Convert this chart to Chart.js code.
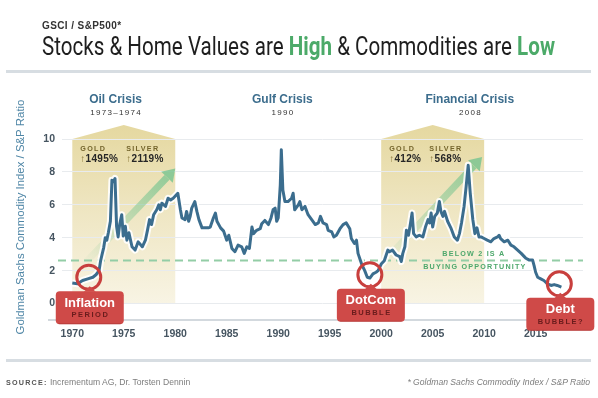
<!DOCTYPE html>
<html><head><meta charset="utf-8">
<script src="https://cdn.jsdelivr.net/npm/chart.js@4.4.1/dist/chart.umd.min.js"></script>
<style>
html,body{margin:0;padding:0;background:#fff;width:598px;height:398px;overflow:hidden;}
#wrap{position:relative;width:598px;height:398px;}
canvas{position:absolute;left:0;top:0;}
.t{position:absolute;white-space:nowrap;font-family:"Liberation Sans",Arial,sans-serif;transform-origin:0 0;}
#kicker{left:42px;top:21px;font-size:10px;line-height:10px;font-weight:bold;letter-spacing:0.4px;color:#333;}
#title{left:42px;top:34px;font-family:Roboto,"Liberation Sans",sans-serif;font-size:25px;line-height:25px;color:#1e1e1e;}
#title b{color:#4caa69;font-weight:bold;}
.rule{position:absolute;left:6px;width:585px;height:3px;background:#d7dde2;}
#source{left:6px;top:377px;font-size:8.6px;line-height:10px;color:#7d7d7d;}
#source b{color:#555;letter-spacing:1.2px;font-size:7.2px;}
#note{right:8px;top:377px;font-size:8.6px;line-height:10px;color:#7d7d7d;font-style:italic;}
</style></head><body>
<div id="wrap">
<canvas id="c" width="598" height="398"></canvas>
<div class="t" id="kicker">GSCI / S&amp;P500*</div>
<div class="t" id="title">Stocks &amp; Home Values are <b>High</b> &amp; Commodities are <b>Low</b></div>
<div class="rule" style="top:70px"></div>
<div class="rule" style="top:358.5px"></div>
<div class="t" id="source"><b>SOURCE:</b> Incrementum AG, Dr. Torsten Dennin</div>
<div class="t" id="note">* Goldman Sachs Commodity Index / S&amp;P Ratio</div>
</div>
<script>
// ---- data ----
const years = [1970.0,1970.5,1971.0,1971.5,1972.0,1972.3,1972.6,1972.75,1972.9,1973.05,1973.2,1973.35,1973.5,1973.7,1973.85,1974.0,1974.15,1974.3,1974.45,1974.6,1974.8,1974.95,1975.15,1975.3,1975.5,1975.8,1976.1,1976.4,1976.8,1977.1,1977.3,1977.5,1977.7,1977.9,1978.2,1978.4,1978.55,1978.7,1979.05,1979.3,1979.55,1979.8,1980.25,1980.5,1980.65,1980.95,1981.1,1981.3,1981.45,1981.6,1981.9,1982.1,1982.3,1982.6,1982.9,1983.2,1983.4,1983.7,1983.9,1984.05,1984.4,1984.7,1985.0,1985.2,1985.5,1985.8,1986.1,1986.45,1986.7,1986.95,1987.2,1987.45,1987.6,1987.9,1988.25,1988.4,1988.7,1989.05,1989.3,1989.5,1989.7,1989.85,1990.0,1990.2,1990.3,1990.45,1990.65,1990.95,1991.3,1991.45,1991.6,1991.95,1992.1,1992.3,1992.6,1992.9,1993.25,1993.6,1993.9,1994.1,1994.35,1994.7,1994.85,1995.2,1995.4,1995.65,1996.0,1996.3,1996.6,1996.95,1997.1,1997.4,1997.6,1997.75,1998.1,1998.4,1998.65,1998.9,1999.2,1999.5,1999.7,2000.0,2000.3,2000.65,2000.8,2001.1,2001.45,2001.8,2001.95,2002.1,2002.3,2002.45,2002.65,2002.85,2003.0,2003.15,2003.4,2003.7,2004.05,2004.3,2004.55,2004.7,2004.85,2005.0,2005.2,2005.45,2005.65,2005.8,2006.0,2006.15,2006.45,2006.8,2007.1,2007.4,2007.6,2007.8,2008.05,2008.25,2008.45,2008.65,2008.9,2009.1,2009.3,2009.5,2009.7,2010.0,2010.3,2010.65,2010.95,2011.3,2011.45,2011.6,2011.95,2012.3,2012.6,2012.9,2013.25,2013.6,2013.9,2014.05,2014.35,2014.7,2014.85,2015.0,2015.2,2015.5,2015.8,2016.15,2016.5,2016.8,2017.1,2017.5];
const ratio = [1.25,1.2,1.4,1.5,1.6,1.75,2.0,2.6,3.0,3.4,4.0,3.85,4.3,5.0,7.5,7.4,7.6,4.7,4.05,4.8,5.4,4.1,4.7,3.85,4.3,3.45,3.25,3.75,3.45,3.85,4.45,5.1,4.8,5.4,5.7,6.0,5.7,6.1,5.9,6.4,6.3,6.4,6.7,5.7,5.2,5.1,5.6,5.0,5.3,5.8,6.2,5.6,5.1,4.6,4.6,4.6,4.65,5.2,5.5,5.0,4.6,4.4,3.85,4.15,3.35,3.15,3.55,3.45,3.05,3.45,3.35,4.65,4.25,4.45,4.55,4.85,5.05,4.8,5.2,5.7,5.8,5.0,5.2,7.2,9.35,6.9,6.2,6.2,6.4,6.7,5.7,6.0,6.2,5.7,5.9,5.4,5.1,4.8,4.9,5.3,4.9,4.8,4.45,4.35,4.05,4.15,4.55,4.8,4.9,4.55,3.95,3.65,3.85,3.05,2.4,2.0,1.6,1.55,1.8,1.9,2.0,2.4,2.6,3.25,3.15,3.25,2.95,2.85,2.55,3.05,3.45,4.45,4.15,4.9,5.5,4.25,4.05,4.15,4.05,4.65,5.1,4.9,5.5,4.65,5.3,5.5,6.2,5.6,5.3,5.6,5.0,4.55,4.05,3.85,4.25,4.9,5.9,7.1,8.4,6.7,5.1,4.25,4.6,4.05,4.05,3.95,3.85,3.75,3.95,4.05,4.15,3.95,3.75,3.85,3.55,3.45,3.25,3.05,2.85,2.75,2.65,2.65,2.3,1.9,1.6,1.5,1.4,1.2,1.1,1.15,1.1,1.0];
const xTicks = [1970,1975,1980,1985,1990,1995,2000,2005,2010,2015];
const yTicks = [0,2,4,6,8,10];
const crisisNames = ['Oil Crisis','Gulf Crisis','Financial Crisis'];
const crisisDates = ['1973–1974','1990','2008'];
const crisisYears = [1974.2,1990.4,2008.6];
const shadeStart = [1970,2000];
const shadeEnd = [1980,2010];
const goldGains = ['1495%','412%'];
const silverGains = ['2119%','568%'];
const trendStartYear = [1971.0,2000.2];
const trendStartValue = [2.3,2.5];
const trendEndYear = [1980.0,2009.8];
const trendEndValue = [8.2,8.9];
const buyLevel = 2.62;
const buyText = ['BELOW 2 IS A','BUYING OPPORTUNITY'];
const buyTextYear = 2009.0;
const bubbleTitles = ['Inflation','DotCom','Debt'];
const bubbleSubs = ['PERIOD','BUBBLE','BUBBLE?'];
const bubbleYears = [1971.6,1998.9,2017.3];
const bubbleValues = [1.6,1.75,1.2];
const yTitle = 'Goldman Sachs Commodity Index / S&P Ratio';

// fit title width like the reference's condensed face
(function(){
  const t=document.getElementById('title');
  const w=t.getBoundingClientRect().width;
  if(w>0) t.style.transform='scaleX('+(513/w)+')';
})();

const SANS = '"Liberation Sans",Arial,sans-serif';

function rr(ctx,x,y,w,h,r){ctx.beginPath();ctx.moveTo(x+r,y);ctx.lineTo(x+w-r,y);ctx.quadraticCurveTo(x+w,y,x+w,y+r);ctx.lineTo(x+w,y+h-r);ctx.quadraticCurveTo(x+w,y+h,x+w-r,y+h);ctx.lineTo(x+r,y+h);ctx.quadraticCurveTo(x,y+h,x,y+h-r);ctx.lineTo(x,y+r);ctx.quadraticCurveTo(x,y,x+r,y);ctx.closePath();}

const annotations = {
  id:'annotations',
  beforeDraw(chart){
    const {ctx,scales:{x,y}} = chart;
    const yTop = y.getPixelForValue(10), yBot = y.getPixelForValue(0);
    ctx.save();
    for(let i=0;i<shadeStart.length;i++){
      const xa = x.getPixelForValue(shadeStart[i]), xb = x.getPixelForValue(shadeEnd[i]);
      const apex = yTop-14;
      const g = ctx.createLinearGradient(0,apex,0,yBot);
      g.addColorStop(0,'#e5d8a0');g.addColorStop(0.45,'#eee5c0');g.addColorStop(1,'#f8f4e4');
      ctx.fillStyle = g;
      ctx.beginPath();ctx.moveTo(xa,yBot);ctx.lineTo(xa,yTop);ctx.lineTo((xa+xb)/2,apex);ctx.lineTo(xb,yTop);ctx.lineTo(xb,yBot);ctx.closePath();ctx.fill();
    }
    ctx.restore();
  },
  beforeDatasetsDraw(chart){
    const {ctx,chartArea:a,scales:{x,y}} = chart;
    ctx.save();
    // x axis base line
    ctx.strokeStyle='#d3d9de';ctx.lineWidth=2;
    ctx.beginPath();ctx.moveTo(a.left-14,a.bottom);ctx.lineTo(a.right,a.bottom);ctx.stroke();
    // buying-opportunity dashed line
    const yb = y.getPixelForValue(buyLevel);
    ctx.strokeStyle='#93cda6';ctx.lineWidth=2;ctx.setLineDash([8,5]);
    ctx.beginPath();ctx.moveTo(a.left-4,yb);ctx.lineTo(a.right,yb);ctx.stroke();
    ctx.setLineDash([]);
    for(let i=0;i<trendStartYear.length;i++){
      const x0=x.getPixelForValue(trendStartYear[i]),y0=y.getPixelForValue(trendStartValue[i]);
      const x1=x.getPixelForValue(trendEndYear[i]),y1=y.getPixelForValue(trendEndValue[i]);
      const ang=Math.atan2(y1-y0,x1-x0), hl=12, hw=8;
      const bx=x1-hl*Math.cos(ang), by=y1-hl*Math.sin(ang);
      const g=ctx.createLinearGradient(x0,y0,x1,y1);
      g.addColorStop(0,'rgba(125,198,146,0)');g.addColorStop(1,'rgba(125,198,146,0.85)');
      ctx.strokeStyle=g;ctx.lineWidth=7;
      ctx.beginPath();ctx.moveTo(x0,y0);ctx.lineTo(bx,by);ctx.stroke();
      ctx.fillStyle='rgba(125,198,146,0.85)';
      ctx.beginPath();ctx.moveTo(x1,y1);
      ctx.lineTo(bx+hw*Math.sin(ang),by-hw*Math.cos(ang));
      ctx.lineTo(bx-hw*Math.sin(ang),by+hw*Math.cos(ang));
      ctx.closePath();ctx.fill();
    }
    ctx.restore();
  },
  afterDatasetsDraw(chart){
    const {ctx,scales:{x,y}} = chart;
    const yTop = y.getPixelForValue(10);
    ctx.save();
    ctx.textBaseline='middle';
    // crisis headings
    for(let i=0;i<crisisNames.length;i++){
      const cx=x.getPixelForValue(crisisYears[i]);
      ctx.textAlign='center';
      ctx.fillStyle='#3c6d8d';ctx.font='bold 12px '+SANS;ctx.letterSpacing='0px';
      ctx.fillText(crisisNames[i],cx,yTop-39);
      ctx.fillStyle='#333';ctx.font='8px '+SANS;ctx.letterSpacing='1.3px';
      ctx.fillText(crisisDates[i],cx+0.7,yTop-26);
    }
    // gold / silver gains
    ctx.textAlign='left';
    for(let i=0;i<shadeStart.length;i++){
      const gx=x.getPixelForValue(shadeStart[i])+8;
      const pairs=[['GOLD',goldGains[i]],['SILVER',silverGains[i]]];
      let px=gx;
      pairs.forEach(([lab,val])=>{
        ctx.font='bold 7.2px '+SANS;ctx.letterSpacing='1.3px';ctx.fillStyle='#74652c';
        ctx.fillText(lab,px,yTop+10);
        const w1=ctx.measureText(lab).width;
        ctx.font='bold 10px '+SANS;ctx.letterSpacing='0.3px';ctx.fillStyle='#857333';
        ctx.fillText('↑',px,yTop+20.5);
        const aw=ctx.measureText('↑').width;
        ctx.fillStyle='#262626';
        ctx.fillText(val,px+aw,yTop+20.5);
        const w2=aw+ctx.measureText(val).width;
        px+=Math.max(w1,w2)+8;
      });
    }
    // buying opportunity text
    const yb=y.getPixelForValue(buyLevel);
    const bx=x.getPixelForValue(buyTextYear);
    ctx.textAlign='center';ctx.font='bold 7.2px '+SANS;ctx.letterSpacing='1.2px';ctx.fillStyle='#4ea86c';
    ctx.fillText(buyText[0],bx,yb-6.5);
    ctx.fillText(buyText[1],bx+1,yb+6.5);
    // bubble call-outs
    for(let i=0;i<bubbleTitles.length;i++){
      const cx=x.getPixelForValue(bubbleYears[i]),cy=y.getPixelForValue(bubbleValues[i]);
      ctx.strokeStyle='#c83f3d';ctx.lineWidth=3;
      ctx.beginPath();ctx.arc(cx,cy,12,0,Math.PI*2);ctx.stroke();
      const bw=68,bh=33,bxl=cx-bw/2+1,bt=cy+14;
      ctx.fillStyle='#cf4a48';
      rr(ctx,bxl,bt,bw,bh,4);ctx.fill();
      ctx.beginPath();ctx.moveTo(cx-5,bt+0.5);ctx.lineTo(cx+1,bt-5);ctx.lineTo(cx+7,bt+0.5);ctx.closePath();ctx.fill();
      ctx.fillStyle='rgba(120,25,25,0.25)';ctx.fillRect(bxl+3,bt+bh-1,bw-6,1);
      ctx.textAlign='center';
      ctx.fillStyle='#fff';ctx.font='bold 13px '+SANS;ctx.letterSpacing='0px';
      ctx.fillText(bubbleTitles[i],bxl+bw/2,bt+12);
      ctx.fillStyle='#6a1c1c';ctx.font='bold 7.5px '+SANS;ctx.letterSpacing='1.5px';
      ctx.fillText(bubbleSubs[i],bxl+bw/2+0.7,bt+24);
    }
    // y axis title
    ctx.letterSpacing='0px';
    ctx.translate(21,217);ctx.rotate(-Math.PI/2);
    ctx.fillStyle='#4f86a6';ctx.font='11.4px '+SANS;ctx.textAlign='center';
    ctx.fillText(yTitle,0,0);
    ctx.restore();
  }
};

const points = years.map((yr,i)=>({x:yr,y:ratio[i]}));
new Chart(document.getElementById('c'),{
  type:'line',
  data:{datasets:[
    {label:'GSCI / S&P500',data:points,borderColor:'#3b6d8e',borderWidth:3,pointRadius:0,tension:0,borderJoinStyle:'round',order:0},
    {label:'halo',data:points,borderColor:'rgba(255,255,255,0.9)',borderWidth:7,pointRadius:0,tension:0,borderJoinStyle:'round',order:1}
  ]},
  options:{
    responsive:false,animation:false,devicePixelRatio:1,
    layout:{padding:{left:0,right:15,top:139,bottom:56}},
    plugins:{legend:{display:false},tooltip:{enabled:false},title:{display:false}},
    scales:{
      x:{type:'linear',min:1969,max:2019.6,z:1,
        afterBuildTicks:s=>{s.ticks=xTicks.map(v=>({value:v}));},
        afterFit:s=>{s.height=22;},
        ticks:{autoSkip:false,maxRotation:0,padding:8,color:'#465561',font:{family:SANS,size:10.5,weight:'bold'},callback:v=>String(v)},
        grid:{display:false,drawTicks:false},
        border:{display:false}},
      y:{type:'linear',min:-1,max:10,
        afterBuildTicks:s=>{s.ticks=yTicks.map(v=>({value:v}));},
        afterFit:s=>{s.width=62;},
        ticks:{padding:7,color:'#465561',font:{family:SANS,size:10.5,weight:'bold'}},
        grid:{color:'#e8ebee',lineWidth:1,drawTicks:false},
        border:{display:false}}
    }
  },
  plugins:[annotations]
});
</script>
</body></html>
